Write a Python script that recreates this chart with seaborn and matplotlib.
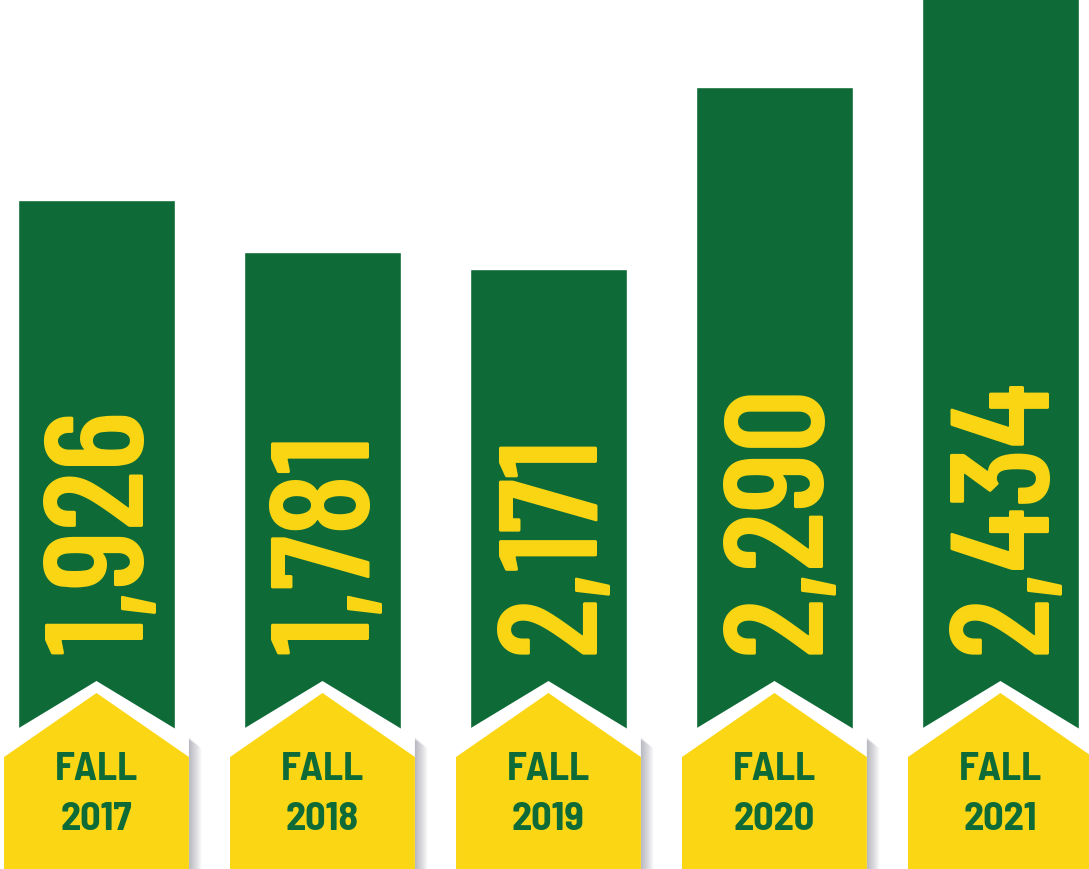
import numpy as np
import pandas as pd
import seaborn as sns
import matplotlib.pyplot as plt
from matplotlib.patches import Polygon

# Data
terms = ['FALL\n2017', 'FALL\n2018', 'FALL\n2019', 'FALL\n2020', 'FALL\n2021']
enrollment = [1926, 1781, 2171, 2290, 2434]
# displayed bar heights (graphic is not to scale)
bar_heights = [540, 488, 471, 653, 760]

green = '#0E6B38'
yellow = '#FBD614'

df = pd.DataFrame({'term': terms, 'height': bar_heights})

sns.set_style('white')
fig = plt.figure(figsize=(10.89, 8.69), dpi=100)
ax = fig.add_axes([0, 0, 1, 1])

sns.barplot(data=df, x='term', y='height', color=green, saturation=1,
            width=0.695, ax=ax, zorder=1)

ax.set_xlim(-0.427, 4.392)
ax.set_ylim(-129, 740)
ax.axis('off')

half = 0.409
for i, (term, val) in enumerate(zip(terms, enrollment)):
    # rotated value inside bar
    ax.text(i + 0.045, 86, f'{val:,}', rotation=90, ha='center', va='bottom',
            color=yellow, fontsize=101, fontweight=600,
            family=['Barlow Condensed', 'DejaVu Sans'], zorder=3)

    # soft shadow on the right of the house label
    for k in range(1, 12):
        d = k * 0.005
        shadow = Polygon([(i - half + d, -129), (i - half + d, 3 - k),
                          (i + d, 59 - k), (i + half + d, 3 - k),
                          (i + half + d, -129)],
                         closed=True, facecolor='#4a4a60', alpha=0.04,
                         edgecolor='none', zorder=4)
        ax.add_patch(shadow)

    white = Polygon([(i - half, -129), (i - half, 3), (i, 59),
                     (i + half, 3), (i + half, -129)],
                    closed=True, facecolor='white', edgecolor='none', zorder=5)
    ax.add_patch(white)
    house = Polygon([(i - half, -129), (i - half, -17), (i, 47),
                     (i + half, -17), (i + half, -129)],
                    closed=True, facecolor=yellow, edgecolor='none', zorder=6)
    ax.add_patch(house)

    top, bottom = term.split('\n')
    ax.text(i, -30, top, ha='center', va='center', color=green,
            fontsize=29, fontweight='bold', family=['Barlow Semi Condensed', 'DejaVu Sans'], zorder=7)
    ax.text(i, -79, bottom, ha='center', va='center', color=green,
            fontsize=29, fontweight='bold', family=['Barlow Semi Condensed', 'DejaVu Sans'], zorder=7)

plt.savefig('out.png', dpi=100)
